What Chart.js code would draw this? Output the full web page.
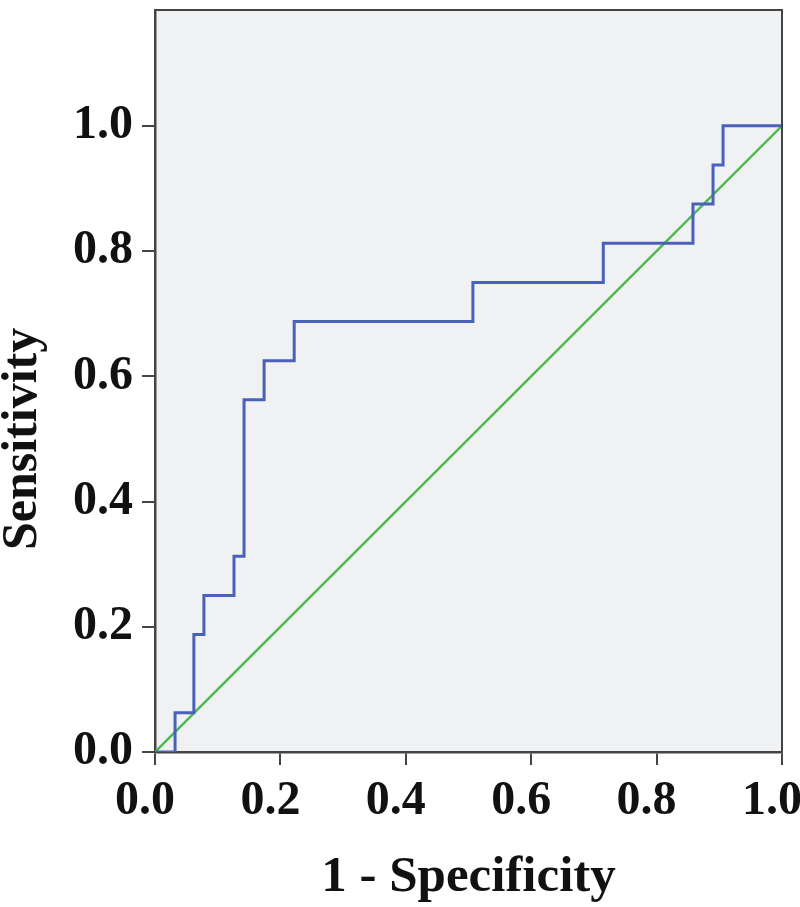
<!DOCTYPE html>
<html>
<head>
<meta charset="utf-8">
<script src="https://cdn.jsdelivr.net/npm/chart.js@4/dist/chart.umd.min.js"></script>
<style>
  html, body { margin: 0; padding: 0; background: #ffffff; }
  #wrap { width: 800px; height: 907px; position: relative; }
</style>
</head>
<body>
<div id="wrap"><canvas id="rocChart"></canvas></div>
<script>
// ROC CURVE DATA

const fpr = [0, 0.032, 0.062, 0.078, 0.126, 0.142, 0.174, 0.222, 0.507, 0.715, 0.858, 0.89, 0.906, 1.0];
const tpr = [0, 0.0625, 0.1875, 0.25, 0.3125, 0.5625, 0.625, 0.6875, 0.75, 0.8125, 0.875, 0.9375, 1.0, 1.0];
const refX = [0, 1];
const refY = [0, 1];
const tickValues = [0, 0.2, 0.4, 0.6, 0.8, 1.0];

const xTitle = "1 - Specificity";
const yTitle = "Sensitivity";

const serif = "'Liberation Serif', 'Times New Roman', serif";

// plot background and frame
const framePlugin = {
  id: "frame",
  beforeDraw(chart) {
    const { ctx, chartArea: a } = chart;
    ctx.save();
    ctx.fillStyle = "#f0f1f3";
    ctx.fillRect(a.left, a.top, a.right - a.left, a.bottom - a.top);
    ctx.restore();
  },
  afterDraw(chart) {
    const { ctx, chartArea: a, scales } = chart;
    ctx.save();
    ctx.strokeStyle = "#444444";
    ctx.lineWidth = 2;
    ctx.beginPath();
    ctx.moveTo(a.left, a.top);
    ctx.lineTo(a.right, a.top);
    ctx.lineTo(a.right, a.bottom);
    ctx.stroke();
    // y title centred on the 0..1 range
    const yMid = scales.y.getPixelForValue(0.5);
    ctx.translate(23, yMid);
    ctx.rotate(-Math.PI / 2);
    ctx.fillStyle = "#111111";
    ctx.font = "bold 50px " + serif;
    ctx.textAlign = "center";
    ctx.textBaseline = "middle";
    ctx.fillText(yTitle, 0, 0);
    ctx.restore();
  },
};

const rocCtx = document.getElementById("rocChart");

new Chart(rocCtx, {
  type: "scatter",
  data: {
    datasets: [
      {
        label: "ROC",
        data: fpr.map((x, i) => ({ x: x, y: tpr[i] })),
        showLine: true,
        stepped: true,
        borderColor: "#4a61b9",
        borderWidth: 3,
        pointRadius: 0,
        fill: false,
      },
      {
        label: "Reference",
        data: refX.map((x, i) => ({ x: x, y: refY[i] })),
        showLine: true,
        borderColor: "#4cba50",
        borderWidth: 2.5,
        pointRadius: 0,
        fill: false,
      },
    ],
  },
  options: {
    responsive: true,
    maintainAspectRatio: false,
    animation: false,
    layout: { padding: { top: 10, right: 18, left: 0, bottom: 0 } },
    plugins: {
      legend: { display: false },
      tooltip: { enabled: false },
    },
    scales: {
      x: {
        type: "linear",
        min: 0,
        max: 1,
        afterBuildTicks(scale) {
          scale.ticks = tickValues.map((v) => ({ value: v }));
        },
        afterFit(scale) {
          scale.height = 155;
          scale.paddingRight = 0;
          scale.paddingLeft = 0;
        },
        grid: {
          drawOnChartArea: false,
          drawTicks: true,
          tickLength: 13,
          color: "#444444",
          lineWidth: 2,
        },
        border: { display: true, color: "#444444", width: 2.5 },
        ticks: {
          color: "#111111",
          padding: 8,
          labelOffset: -10,
          maxRotation: 0,
          font: { family: serif, size: 48, weight: "bold" },
          callback: (v) => Number(v).toFixed(1),
        },
        title: {
          display: true,
          text: xTitle,
          color: "#111111",
          padding: { top: 0, bottom: 4 },
          font: { family: serif, size: 51, weight: "bold", lineHeight: 1 },
        },
      },
      y: {
        type: "linear",
        min: 0,
        max: 1.185,
        afterBuildTicks(scale) {
          scale.ticks = tickValues.map((v) => ({ value: v }));
        },
        afterFit(scale) {
          scale.width = 155;
          scale.paddingTop = 0;
          scale.paddingBottom = 0;
        },
        grid: {
          drawOnChartArea: false,
          drawTicks: true,
          tickLength: 13,
          color: "#444444",
          lineWidth: 2,
        },
        border: { display: true, color: "#444444", width: 2.5 },
        ticks: {
          color: "#111111",
          padding: 9,
          font: { family: serif, size: 48, weight: "bold" },
          callback: (v) => Number(v).toFixed(1),
        },
      },
    },
  },
  plugins: [framePlugin],
});
</script>
</body>
</html>
